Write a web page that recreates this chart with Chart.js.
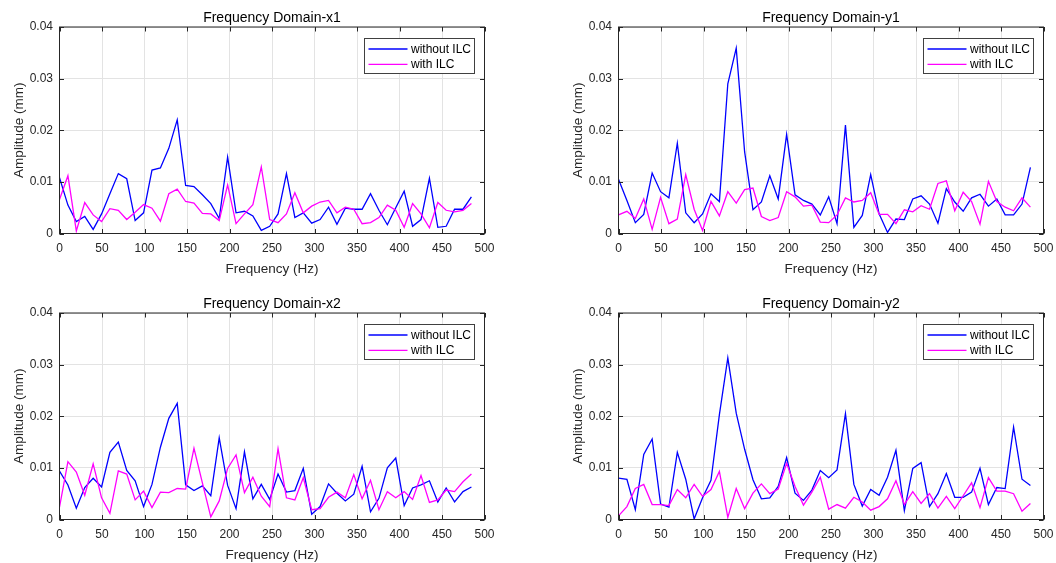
<!DOCTYPE html>
<html>
<head>
<meta charset="utf-8">
<script src="https://cdn.jsdelivr.net/npm/chart.js@4.4.1/dist/chart.umd.min.js"></script>
<style>
  html, body { margin: 0; padding: 0; background: #fff; width: 1056px; height: 563px; overflow: hidden; }
  canvas { position: absolute; }
</style>
</head>
<body>
<canvas id="chartX1" width="497" height="286" style="left:0;top:0"></canvas>
<canvas id="chartY1" width="497" height="286" style="left:559px;top:0"></canvas>
<canvas id="chartX2" width="497" height="286" style="left:0;top:286px"></canvas>
<canvas id="chartY2" width="497" height="286" style="left:559px;top:286px"></canvas>
<script>
// frequency bins (Hz)
const freqHz = [0, 9.9, 19.8, 29.7, 39.6, 49.5, 59.3, 69.2, 79.1, 89.0,
  98.9, 108.8, 118.7, 128.6, 138.5, 148.4, 158.2, 168.1, 178.0, 187.9,
  197.8, 207.7, 217.6, 227.5, 237.4, 247.3, 257.1, 267.0, 276.9, 286.8,
  296.7, 306.6, 316.5, 326.4, 336.3, 346.2, 356.0, 365.9, 375.8, 385.7,
  395.6, 405.5, 415.4, 425.3, 435.2, 445.1, 454.9, 464.8, 474.7, 484.6];

// amplitudes (mm)
const x1Without = [0.0108, 0.0055, 0.0023, 0.0033, 0.0008, 0.0038, 0.0077, 0.0116, 0.0106, 0.0025,
  0.0040, 0.0123, 0.0127, 0.0165, 0.0220, 0.0093, 0.0091, 0.0075, 0.0058, 0.0029,
  0.0148, 0.0040, 0.0043, 0.0034, 0.0006, 0.0014, 0.0038, 0.0116, 0.0031, 0.0040,
  0.0020, 0.0027, 0.0051, 0.0018, 0.0049, 0.0047, 0.0047, 0.0077, 0.0045, 0.0017,
  0.0050, 0.0082, 0.0014, 0.0027, 0.0107, 0.0012, 0.0014, 0.0047, 0.0047, 0.0071];
const x1With = [0.0066, 0.0112, 0.0005, 0.0060, 0.0036, 0.0023, 0.0048, 0.0045, 0.0027, 0.0041,
  0.0056, 0.0049, 0.0024, 0.0077, 0.0086, 0.0062, 0.0059, 0.0039, 0.0038, 0.0025,
  0.0094, 0.0019, 0.0038, 0.0056, 0.0129, 0.0027, 0.0021, 0.0038, 0.0079, 0.0040,
  0.0053, 0.0061, 0.0064, 0.0040, 0.0051, 0.0047, 0.0019, 0.0021, 0.0031, 0.0055,
  0.0045, 0.0012, 0.0058, 0.0038, 0.0011, 0.0060, 0.0045, 0.0042, 0.0045, 0.0058];

const y1Without = [0.0105, 0.0064, 0.0021, 0.0037, 0.0117, 0.0081, 0.0069, 0.0175, 0.0040, 0.0021,
  0.0038, 0.0077, 0.0062, 0.0290, 0.0359, 0.0158, 0.0046, 0.0061, 0.0112, 0.0067,
  0.0192, 0.0075, 0.0064, 0.0057, 0.0036, 0.0071, 0.0019, 0.0210, 0.0012, 0.0035,
  0.0114, 0.0038, 0.0002, 0.0028, 0.0027, 0.0067, 0.0073, 0.0057, 0.0020, 0.0087,
  0.0061, 0.0043, 0.0069, 0.0076, 0.0053, 0.0067, 0.0036, 0.0036, 0.0057, 0.0128];
const y1With = [0.0036, 0.0043, 0.0029, 0.0067, 0.0008, 0.0070, 0.0019, 0.0028, 0.0114, 0.0047,
  0.0006, 0.0062, 0.0034, 0.0081, 0.0059, 0.0085, 0.0088, 0.0033, 0.0025, 0.0031,
  0.0081, 0.0071, 0.0053, 0.0055, 0.0022, 0.0021, 0.0036, 0.0069, 0.0061, 0.0064,
  0.0079, 0.0037, 0.0037, 0.0019, 0.0046, 0.0042, 0.0054, 0.0047, 0.0097, 0.0102,
  0.0044, 0.0080, 0.0062, 0.0018, 0.0101, 0.0062, 0.0051, 0.0044, 0.0069, 0.0051];

const x2Without = [0.0094, 0.0067, 0.0022, 0.0062, 0.0080, 0.0063, 0.0130, 0.0150, 0.0095, 0.0075,
  0.0025, 0.0068, 0.0140, 0.0196, 0.0225, 0.0067, 0.0056, 0.0065, 0.0046, 0.0158,
  0.0066, 0.0021, 0.0131, 0.0040, 0.0068, 0.0039, 0.0088, 0.0053, 0.0056, 0.0099,
  0.0010, 0.0025, 0.0069, 0.0051, 0.0036, 0.0049, 0.0103, 0.0015, 0.0041, 0.0100,
  0.0119, 0.0027, 0.0061, 0.0067, 0.0075, 0.0034, 0.0061, 0.0034, 0.0054, 0.0063];
const x2With = [0.0024, 0.0112, 0.0092, 0.0047, 0.0108, 0.0042, 0.0012, 0.0094, 0.0088, 0.0038,
  0.0055, 0.0023, 0.0053, 0.0052, 0.0060, 0.0059, 0.0138, 0.0071, 0.0005, 0.0036,
  0.0099, 0.0125, 0.0052, 0.0082, 0.0045, 0.0025, 0.0137, 0.0042, 0.0038, 0.0081,
  0.0019, 0.0021, 0.0043, 0.0053, 0.0042, 0.0087, 0.0040, 0.0076, 0.0019, 0.0054,
  0.0042, 0.0054, 0.0039, 0.0085, 0.0033, 0.0038, 0.0057, 0.0054, 0.0073, 0.0088];

const y2Without = [0.0080, 0.0078, 0.0019, 0.0126, 0.0156, 0.0030, 0.0024, 0.0130, 0.0078, 0.0001,
  0.0042, 0.0076, 0.0203, 0.0313, 0.0206, 0.0136, 0.0077, 0.0040, 0.0042, 0.0064,
  0.0120, 0.0051, 0.0037, 0.0057, 0.0095, 0.0081, 0.0096, 0.0205, 0.0068, 0.0026,
  0.0058, 0.0047, 0.0082, 0.0134, 0.0017, 0.0099, 0.0110, 0.0025, 0.0050, 0.0089,
  0.0043, 0.0043, 0.0053, 0.0099, 0.0029, 0.0062, 0.0060, 0.0179, 0.0078, 0.0066];
const y2With = [0.0007, 0.0025, 0.0060, 0.0068, 0.0029, 0.0029, 0.0027, 0.0058, 0.0042, 0.0068,
  0.0045, 0.0058, 0.0093, 0.0004, 0.0060, 0.0021, 0.0051, 0.0069, 0.0050, 0.0059,
  0.0109, 0.0064, 0.0028, 0.0053, 0.0082, 0.0020, 0.0029, 0.0022, 0.0043, 0.0034,
  0.0018, 0.0025, 0.0040, 0.0075, 0.0029, 0.0054, 0.0031, 0.0050, 0.0022, 0.0045,
  0.0021, 0.0046, 0.0071, 0.0023, 0.0081, 0.0055, 0.0055, 0.0050, 0.0016, 0.0031];

const seriesNames = ['without ILC', 'with ILC'];
const xTickValues = [0, 50, 100, 150, 200, 250, 300, 350, 400, 450, 500];
const yTickValues = [0, 0.01, 0.02, 0.03, 0.04];

const FONT = '"Liberation Sans", Arial, Helvetica, sans-serif';
const TEXT = '#262626';

// MATLAB-like axes box with inward tick marks
const axesBox = {
  id: 'axesBox',
  afterDatasetsDraw(chart) {
    const { ctx, chartArea: a, scales: { x, y } } = chart;
    const len = 4.5;
    ctx.save();
    ctx.strokeStyle = TEXT;
    ctx.lineWidth = 1;
    ctx.beginPath();
    x.ticks.forEach(t => {
      const px = Math.round(x.getPixelForValue(t.value)) + 0.5;
      ctx.moveTo(px, a.bottom); ctx.lineTo(px, a.bottom - len);
      ctx.moveTo(px, a.top); ctx.lineTo(px, a.top + len);
    });
    y.ticks.forEach(t => {
      const py = Math.round(y.getPixelForValue(t.value)) + 0.5;
      ctx.moveTo(a.left, py); ctx.lineTo(a.left + len, py);
      ctx.moveTo(a.right, py); ctx.lineTo(a.right - len, py);
    });
    ctx.stroke();
    ctx.strokeRect(a.left, a.top, a.right - a.left, a.bottom - a.top);
    ctx.restore();
  }
};

// legend box in the upper right of the axes
const boxLegend = {
  id: 'boxLegend',
  afterDraw(chart) {
    const { ctx, chartArea: a } = chart;
    const w = 110, h = 35;
    const bx = Math.round(a.right - 10.5 - w) + 0.5;
    const by = Math.round(a.top + 10.5) + 0.5;
    ctx.save();
    ctx.fillStyle = '#fff';
    ctx.fillRect(bx, by, w, h);
    ctx.strokeStyle = '#404040';
    ctx.lineWidth = 1;
    ctx.strokeRect(bx, by, w, h);
    ctx.font = '12px ' + FONT;
    ctx.textBaseline = 'middle';
    chart.data.datasets.forEach((ds, i) => {
      const cy = by + 10.5 + i * 15.3;
      ctx.strokeStyle = ds.borderColor;
      ctx.lineWidth = 1.3;
      ctx.beginPath();
      ctx.moveTo(bx + 4, cy); ctx.lineTo(bx + 43, cy);
      ctx.stroke();
      ctx.fillStyle = '#000';
      ctx.fillText(ds.label, bx + 46.5, cy + 0.5);
    });
    ctx.restore();
  }
};

function makePanel(id, title, without, withIlc) {
  const ctx = document.getElementById(id).getContext('2d');
  const canvasH = 286;
  return new Chart(ctx, {
    type: 'line',
    data: {
      datasets: [
        { label: seriesNames[0], data: freqHz.map((f, i) => ({ x: f, y: without[i] })),
          borderColor: '#0000ff', borderWidth: 1.3, pointRadius: 0, tension: 0, order: 1 },
        { label: seriesNames[1], data: freqHz.map((f, i) => ({ x: f, y: withIlc[i] })),
          borderColor: '#ff00ff', borderWidth: 1.3, pointRadius: 0, tension: 0, order: 0 }
      ]
    },
    options: {
      responsive: false,
      animation: false,
      devicePixelRatio: 1,
      layout: { padding: { left: 0, right: 12.5, top: 0, bottom: 0 } },
      plugins: {
        legend: { display: false },
        tooltip: { enabled: false },
        title: {
          display: true, text: title, color: '#000', fullSize: false,
          font: { family: FONT, size: 14, weight: 'normal', lineHeight: 1.2 },
          padding: { top: 10, bottom: 0.2 }
        }
      },
      scales: {
        x: {
          type: 'linear', min: 0, max: 500,
          afterBuildTicks: s => { s.ticks = xTickValues.map(v => ({ value: v })); },
          afterFit: s => { s.height = canvasH - 233.5; s.paddingLeft = 0; s.paddingRight = 0; },
          grid: { color: '#e3e3e3', drawTicks: false },
          border: { display: false },
          ticks: { color: TEXT, font: { family: FONT, size: 12 }, padding: 7.5, maxRotation: 0, autoSkip: false },
          title: { display: true, text: 'Frequency (Hz)', color: TEXT,
            font: { family: FONT, size: 13.5 }, padding: { top: 0, bottom: 9 } }
        },
        y: {
          min: 0, max: 0.04,
          afterBuildTicks: s => { s.ticks = yTickValues.map(v => ({ value: v })); },
          afterFit: s => { s.width = 59.5; s.paddingTop = 0; s.paddingBottom = 0; },
          grid: { color: '#e3e3e3', drawTicks: false },
          border: { display: false },
          ticks: { color: TEXT, font: { family: FONT, size: 12 }, padding: 6.5,
            callback: v => v === 0 ? '0' : v.toFixed(2) },
          title: { display: true, text: 'Amplitude (mm)', color: TEXT,
            font: { family: FONT, size: 13.5 }, padding: { top: 11, bottom: 0 } }
        }
      }
    },
    plugins: [axesBox, boxLegend]
  });
}

makePanel('chartX1', 'Frequency Domain-x1', x1Without, x1With);
makePanel('chartY1', 'Frequency Domain-y1', y1Without, y1With);
makePanel('chartX2', 'Frequency Domain-x2', x2Without, x2With);
makePanel('chartY2', 'Frequency Domain-y2', y2Without, y2With);
</script>
</body>
</html>
